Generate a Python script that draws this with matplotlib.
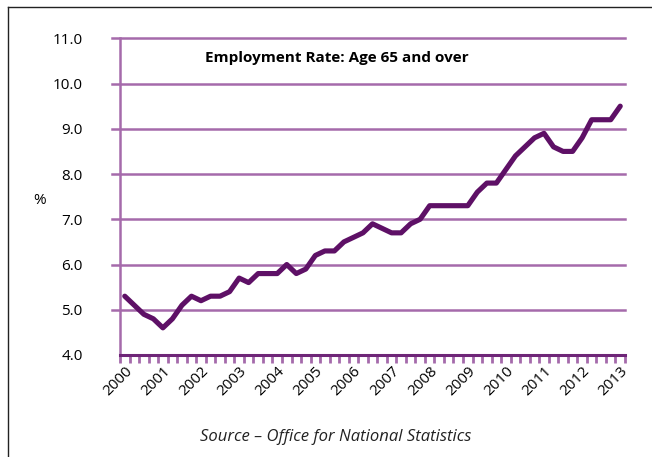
import matplotlib
matplotlib.use("Agg")
import matplotlib.pyplot as plt
from matplotlib.lines import Line2D
import numpy as np

plt.rcParams['font.family'] = ['Open Sans', 'DejaVu Sans']

years = [str(y) for y in range(2000, 2014)]
# quarterly values, 2000 Q1 .. 2013 Q1
rate = [5.3, 5.1, 4.9, 4.8,
        4.6, 4.8, 5.1, 5.3,
        5.2, 5.3, 5.3, 5.4,
        5.7, 5.6, 5.8, 5.8,
        5.8, 6.0, 5.8, 5.9,
        6.2, 6.3, 6.3, 6.5,
        6.6, 6.7, 6.9, 6.8,
        6.7, 6.7, 6.9, 7.0,
        7.3, 7.3, 7.3, 7.3,
        7.3, 7.6, 7.8, 7.8,
        8.1, 8.4, 8.6, 8.8,
        8.9, 8.6, 8.5, 8.5,
        8.8, 9.2, 9.2, 9.2,
        9.5]
yticks = [4.0, 5.0, 6.0, 7.0, 8.0, 9.0, 10.0, 11.0]

grid_c = '#a56aab'
axis_c = '#6e2577'
line_c = '#5e1066'

fig = plt.figure(figsize=(6.52, 4.57), dpi=100)
ax = fig.add_axes([120/652, 1-355/457, 505/652, (355-38.3)/457])

x = np.arange(len(rate))
ax.plot(x, rate, color=line_c, lw=3.7, solid_capstyle='round', solid_joinstyle='round', zorder=5)

ax.set_xlim(-0.5, len(rate) - 0.5)
ax.set_ylim(yticks[0], yticks[-1])

# gridlines (extend slightly left as tick marks)
for v in yticks[1:]:
    ax.plot([-1.35, len(rate) - 0.5], [v, v], color=grid_c, lw=1.8, clip_on=False, zorder=2)

for s in ['top', 'right']:
    ax.spines[s].set_visible(False)
ax.spines['left'].set_color(grid_c)
ax.spines['left'].set_linewidth(1.8)
ax.spines['bottom'].set_color(axis_c)
ax.spines['bottom'].set_linewidth(2.2)
ax.spines['bottom'].set_zorder(6)

ax.set_yticks(yticks)
ax.set_yticklabels([f"{v:.1f}" for v in yticks], fontsize=11)
ax.tick_params(axis='y', length=0, pad=27, colors='black')

# x: minor ticks at category boundaries, labels each year
ax.set_xticks(np.arange(-0.5, len(rate) + 0.5, 1.0), minor=True)
ax.set_xticks(np.arange(0, len(rate), 4))
ax.set_xticklabels(years, fontsize=11, rotation=45, ha='right', rotation_mode='anchor')
ax.tick_params(axis='x', which='major', length=0, pad=6)
ax.tick_params(axis='x', which='minor', length=6, width=2.0, color=grid_c, direction='out')

ax.text(0.168 * len(rate) - 0.5, 10.56, 'Employment Rate: Age 65 and over',
        fontsize=11, fontweight='bold', ha='left', va='center')

fig.text(40/652, 1-200/457, '%', fontsize=11, ha='center', va='center')
fig.text(336/652, 1-437/457, 'Source \u2013 Office for National Statistics', fontsize=12,
         style='italic', ha='center', va='center', color='#222222')

# frame lines (left and top)
fig.add_artist(Line2D([8/652, 8/652], [0, 1-7/457], color='#222222', lw=1.0, transform=fig.transFigure))
fig.add_artist(Line2D([8/652, 1], [1-7/457, 1-7/457], color='#222222', lw=1.0, transform=fig.transFigure))

fig.savefig('out.png', dpi=100)
